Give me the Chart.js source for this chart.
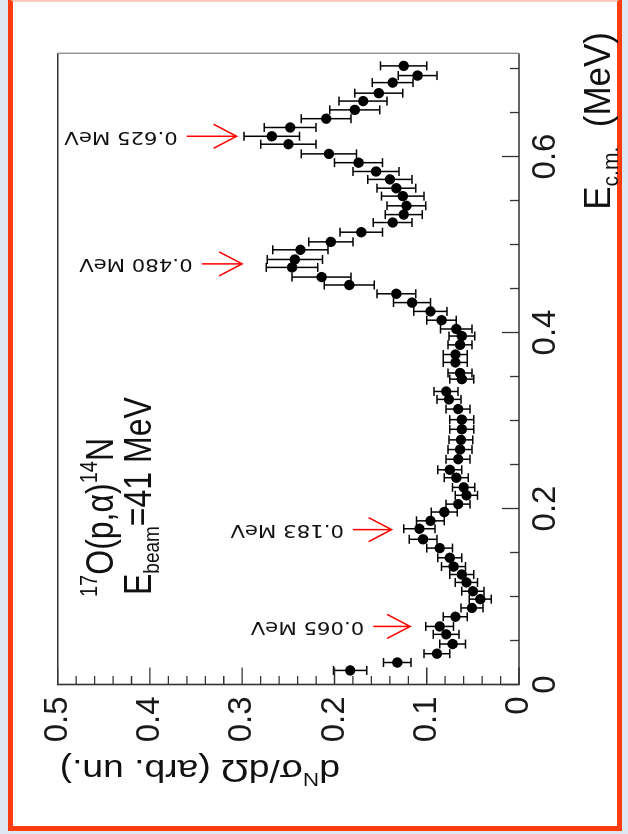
<!DOCTYPE html>
<html>
<head>
<meta charset="utf-8">
<script src="https://cdn.jsdelivr.net/npm/chart.js@4.4.0/dist/chart.umd.min.js"></script>
<style>
  html, body { margin: 0; padding: 0; }
  body { width: 628px; height: 834px; overflow: hidden; position: relative; background: #dfe7f0; }
  #frame { position: absolute; left: 8px; top: -3px; width: 604px; height: 824px; border: 5px solid #ff3c10; border-top-color: #fcc9bb; background: #fff; }
  /* the plot is drawn upright and then turned a quarter turn, like the slide */
  #rot { position: absolute; left: -103px; top: 103px; width: 834px; height: 628px; transform: rotate(-90deg); }
</style>
</head>
<body>
<div id="frame"></div>
<div id="rot"><canvas id="spec" width="834" height="628"></canvas></div>
<script>
// c.m. energy of each bin (MeV)
var energy = [
  0.016, 0.025, 0.035, 0.046, 0.057, 0.066, 0.077, 0.087, 0.097, 0.106,
  0.116, 0.125, 0.134, 0.144, 0.155, 0.165, 0.177, 0.186, 0.196, 0.205,
  0.215, 0.224, 0.235, 0.244, 0.256, 0.267, 0.278, 0.290, 0.301, 0.313,
  0.324, 0.333, 0.347, 0.354, 0.366, 0.375, 0.386, 0.396, 0.404, 0.414,
  0.424, 0.434, 0.444, 0.454, 0.463, 0.474, 0.483, 0.494, 0.503, 0.514,
  0.525, 0.534, 0.544, 0.555, 0.564, 0.574, 0.583, 0.593, 0.603, 0.614,
  0.623, 0.633, 0.643, 0.653, 0.663, 0.672, 0.684, 0.692, 0.703
];
// cross section (arb. un.)
var sigma = [
  0.183, 0.132, 0.089, 0.072, 0.079, 0.086, 0.069, 0.051, 0.042, 0.050,
  0.057, 0.062, 0.071, 0.075, 0.086, 0.104, 0.108, 0.096, 0.081, 0.066,
  0.057, 0.060, 0.068, 0.075, 0.066, 0.064, 0.063, 0.062, 0.062, 0.066,
  0.076, 0.079, 0.062, 0.064, 0.069, 0.069, 0.064, 0.062, 0.068, 0.084,
  0.096, 0.116, 0.133, 0.184, 0.214, 0.246, 0.243, 0.237, 0.204, 0.171,
  0.137, 0.125, 0.122, 0.126, 0.133, 0.140, 0.155, 0.174, 0.206, 0.250,
  0.268, 0.248, 0.209, 0.178, 0.169, 0.152, 0.137, 0.110, 0.125
];
var sigmaErr = [
  0.018, 0.015, 0.014, 0.014, 0.014, 0.015, 0.013, 0.012, 0.012, 0.012,
  0.012, 0.013, 0.013, 0.013, 0.014, 0.015, 0.017, 0.015, 0.014, 0.013,
  0.012, 0.012, 0.013, 0.013, 0.013, 0.013, 0.013, 0.013, 0.013, 0.013,
  0.013, 0.013, 0.013, 0.013, 0.013, 0.013, 0.013, 0.014, 0.017, 0.016,
  0.018, 0.020, 0.021, 0.027, 0.032, 0.028, 0.030, 0.030, 0.024, 0.023,
  0.021, 0.020, 0.021, 0.023, 0.021, 0.024, 0.025, 0.026, 0.030, 0.030,
  0.030, 0.028, 0.027, 0.027, 0.026, 0.026, 0.022, 0.021, 0.025
];

// resonance arrows: where they sit and what they say
var resE = [0.066, 0.176, 0.478, 0.623];
var resLabels = ['0.065 MeV', '0.183 MeV', '0.480 MeV', '0.625 MeV'];
var arrowTip = [0.118, 0.138, 0.300, 0.306];
var arrowTail = [0.158, 0.180, 0.344, 0.360];

// labelled ticks
var eTickVals = [0, 0.2, 0.4, 0.6];
var eTickLabels = ['0', '0.2', '0.4', '0.6'];
var sTickVals = [0, 0.1, 0.2, 0.3, 0.4, 0.5];
var sTickLabels = ['0', '0.1', '0.2', '0.3', '0.4', '0.5'];

Chart.defaults.font.family = '"Liberation Sans", Arial, sans-serif';

function pickLabel(v, vals, labels) {
  for (var i = 0; i < vals.length; i++) {
    if (Math.abs(v - vals[i]) < 1e-6) return labels[i];
  }
  return '';
}

function richWidth(ctx, parts) {
  var w = 0;
  parts.forEach(function (p) {
    ctx.font = p[1] + 'px "Liberation Sans"';
    w += ctx.measureText(p[0]).width;
  });
  return w;
}

function richText(ctx, parts, x, y) {
  parts.forEach(function (p) {
    ctx.font = p[1] + 'px "Liberation Sans"';
    ctx.fillText(p[0], x, y - (p[2] || 0));
    x += ctx.measureText(p[0]).width;
  });
}

var reactionTitle = [['17', 20, 13], ['O(p,\u03b1)', 32], ['14', 20, 13], ['N', 32]];
var beamTitle = [['E', 32], ['beam', 19, -7], ['=41 MeV', 32]];
var eTitle = [['E', 35], ['c.m.', 21, -7], ['  (MeV)', 35]];
var sTitle = [['d', 31], ['N', 19, 13], ['\u03c3/d\u03a9 (arb. un.)', 31]];

var rootStyle = {
  id: 'rootStyle',
  beforeDatasetsDraw: function (chart) {
    var ctx = chart.ctx, xs = chart.scales.x, ys = chart.scales.y;
    ctx.save();
    ctx.strokeStyle = '#000';
    ctx.lineWidth = 1.5;
    ctx.beginPath();
    for (var i = 0; i < energy.length; i++) {
      var px = xs.getPixelForValue(energy[i]);
      var lo = ys.getPixelForValue(sigma[i] - sigmaErr[i]);
      var hi = ys.getPixelForValue(sigma[i] + sigmaErr[i]);
      ctx.moveTo(px, lo); ctx.lineTo(px, hi);
      ctx.moveTo(px - 4.5, lo); ctx.lineTo(px + 4.5, lo);
      ctx.moveTo(px - 4.5, hi); ctx.lineTo(px + 4.5, hi);
    }
    ctx.stroke();
    ctx.restore();
  },
  afterDraw: function (chart) {
    var ctx = chart.ctx, a = chart.chartArea, xs = chart.scales.x, ys = chart.scales.y;
    ctx.save();

    // frame
    ctx.strokeStyle = '#333';
    ctx.lineWidth = 1.6;
    ctx.beginPath();
    ctx.moveTo(a.right, a.top); ctx.lineTo(a.left, a.top);
    ctx.lineTo(a.left, a.bottom); ctx.lineTo(a.right, a.bottom);
    ctx.stroke();
    ctx.strokeStyle = '#888';
    ctx.lineWidth = 1.3;
    ctx.beginPath();
    ctx.moveTo(a.right, a.top); ctx.lineTo(a.right, a.bottom);
    ctx.stroke();

    // ticks point into the plot
    ctx.strokeStyle = '#333';
    ctx.lineWidth = 1.3;
    ctx.beginPath();
    xs.ticks.forEach(function (t) {
      var p = xs.getPixelForValue(t.value), len = t.label ? 17 : 9;
      ctx.moveTo(p, a.bottom); ctx.lineTo(p, a.bottom - len);
    });
    ys.ticks.forEach(function (t) {
      var p = ys.getPixelForValue(t.value), len = t.label ? 17 : 8.5;
      ctx.moveTo(a.left, p); ctx.lineTo(a.left + len, p);
    });
    ctx.stroke();

    // resonance arrows
    ctx.strokeStyle = '#ff0000';
    ctx.lineWidth = 1.5;
    for (var i = 0; i < resE.length; i++) {
      var u = xs.getPixelForValue(resE[i]);
      var vt = ys.getPixelForValue(arrowTip[i]);
      var vb = ys.getPixelForValue(arrowTail[i]);
      ctx.beginPath();
      ctx.moveTo(u, vb); ctx.lineTo(u, vt);
      ctx.moveTo(u - 12, vt - 23); ctx.lineTo(u, vt); ctx.lineTo(u + 12, vt - 23);
      ctx.stroke();

      ctx.save();
      ctx.fillStyle = '#111';
      ctx.font = '17px "DejaVu Sans"';
      ctx.translate(u, vb - 9);
      ctx.rotate(-Math.PI / 2);
      ctx.scale(1.25, 1);
      ctx.textAlign = 'left';
      ctx.textBaseline = 'middle';
      ctx.fillText(resLabels[i], 0, 0);
      ctx.restore();
    }

    ctx.fillStyle = '#111';
    ctx.textAlign = 'left';
    ctx.textBaseline = 'alphabetic';

    // reaction and beam energy
    ctx.save();
    ctx.translate(a.left + 87.5, a.top + 55);
    ctx.scale(1, 1.2);
    richText(ctx, reactionTitle, 0, 0);
    ctx.restore();
    ctx.save();
    ctx.translate(a.left + 89.5, a.top + 93);
    ctx.scale(1, 1.2);
    richText(ctx, beamTitle, 0, 0);
    ctx.restore();

    // energy axis title, flush with the end of the axis
    ctx.save();
    ctx.translate(802 - richWidth(ctx, eTitle), a.bottom + 91);
    ctx.scale(1, 1.08);
    richText(ctx, eTitle, 0, 0);
    ctx.restore();

    // cross-section axis title
    ctx.save();
    ctx.translate(74, a.top + 2);
    ctx.rotate(-Math.PI / 2);
    ctx.scale(1.2, 1);
    richText(ctx, sTitle, -richWidth(ctx, sTitle), 0);
    ctx.restore();

    ctx.restore();
  }
};

var points = energy.map(function (e, i) { return { x: e, y: sigma[i] }; });

new Chart(document.getElementById('spec'), {
  type: 'scatter',
  data: {
    datasets: [{
      data: points,
      pointRadius: 5.2,
      pointHoverRadius: 5.2,
      pointBorderWidth: 0,
      backgroundColor: '#000',
      borderColor: '#000'
    }]
  },
  options: {
    responsive: false,
    animation: false,
    devicePixelRatio: 1,
    events: [],
    layout: { padding: { left: 0, top: 57.7, right: 53.3, bottom: 0 } },
    plugins: { legend: { display: false }, tooltip: { enabled: false } },
    scales: {
      x: {
        type: 'linear', position: 'bottom', min: 0, max: 0.7173,
        grid: { display: false, drawTicks: false },
        border: { display: false },
        ticks: {
          stepSize: 0.05, autoSkip: false, maxRotation: 0, minRotation: 0,
          includeBounds: false, padding: 7, color: '#1a1a1a', font: { size: 33 },
          callback: function (v) { return pickLabel(v, eTickVals, eTickLabels); }
        },
        afterFit: function (s) { s.height = 109; }
      },
      y: {
        type: 'linear', position: 'left', min: 0, max: 0.5,
        grid: { display: false, drawTicks: false },
        border: { display: false },
        ticks: {
          stepSize: 0.02, autoSkip: false, includeBounds: false,
          padding: 12, color: '#1a1a1a', font: { size: 33 },
          callback: function (v) { return pickLabel(v, sTickVals, sTickLabels); }
        },
        afterFit: function (s) { s.width = 149.5; }
      }
    }
  },
  plugins: [rootStyle]
});
</script>
</body>
</html>
